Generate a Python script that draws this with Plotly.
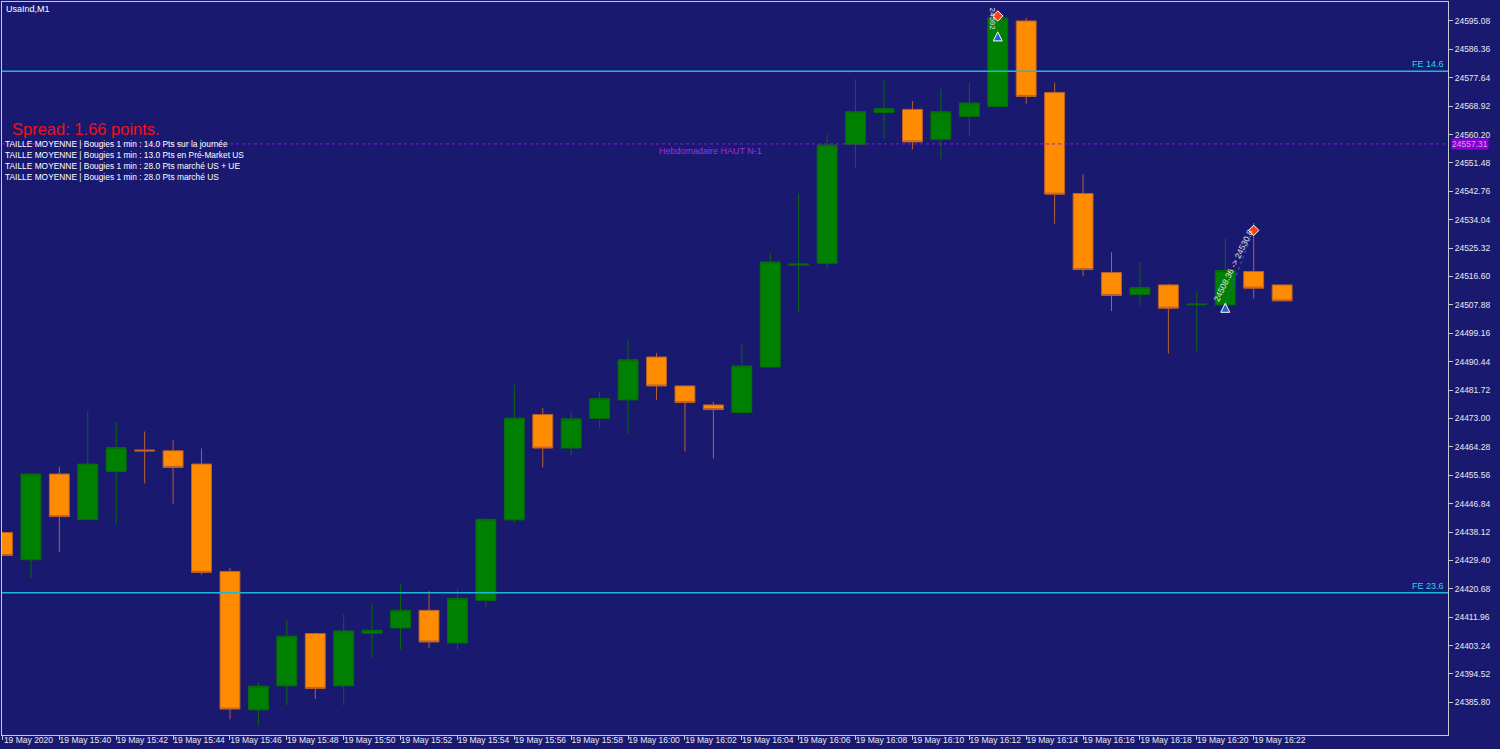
import plotly.graph_objects as go
from datetime import datetime, timedelta

# --- data (UsaInd, M1, 19 May 2020) ---
start = datetime(2020, 5, 19, 15, 38)
times = [start + timedelta(minutes=i) for i in range(46)]

opens = [24437.96, 24429.60, 24455.94, 24441.94, 24456.73, 24463.32, 24463.07, 24459.00,
         24426.01, 24383.53, 24390.88, 24406.93, 24390.88, 24407.02, 24408.65, 24414.07,
         24404.05, 24417.13, 24441.85, 24474.19, 24463.90, 24472.97, 24478.69, 24491.86,
         24482.98, 24477.16, 24474.80, 24488.80, 24520.10, 24520.65, 24557.19, 24566.99,
         24567.91, 24558.72, 24565.77, 24568.83, 24595.08, 24573.12, 24542.09, 24517.81,
         24511.07, 24514.01, 24507.90, 24507.88, 24518.11, 24514.01]
highs = [24437.96, 24456.34, 24458.17, 24475.02, 24471.96, 24468.99, 24466.35, 24463.78,
         24427.15, 24391.93, 24411.01, 24407.24, 24412.84, 24416.12, 24421.94, 24419.98,
         24420.72, 24442.30, 24483.29, 24476.24, 24475.02, 24481.36, 24497.07, 24493.09,
         24483.10, 24478.08, 24496.15, 24523.72, 24542.09, 24560.26, 24577.22, 24577.22,
         24570.49, 24574.16, 24576.09, 24596.61, 24596.00, 24576.09, 24548.00, 24524.02,
         24521.05, 24514.32, 24512.08, 24528.22, 24533.00, 24514.01]
lows = [24430.91, 24423.96, 24431.93, 24441.94, 24440.81, 24453.06, 24446.75, 24425.00,
        24380.59, 24378.63, 24384.97, 24386.81, 24384.97, 24399.58, 24402.12, 24402.52,
        24401.82, 24414.90, 24440.81, 24457.96, 24461.76, 24469.90, 24468.07, 24478.60,
        24462.86, 24460.72, 24474.60, 24488.60, 24505.74, 24518.72, 24549.84, 24558.85,
        24555.66, 24552.72, 24559.77, 24568.60, 24569.66, 24532.81, 24516.67, 24505.95,
        24507.79, 24492.87, 24493.70, 24505.74, 24509.84, 24509.11]
closes = [24430.91, 24455.94, 24442.86, 24459.00, 24464.08, 24463.02, 24457.96, 24425.71,
          24383.75, 24390.79, 24406.11, 24390.09, 24407.73, 24407.94, 24414.07, 24404.36,
          24417.74, 24442.03, 24473.09, 24463.90, 24472.87, 24479.09, 24491.04, 24482.98,
          24477.87, 24475.72, 24489.11, 24521.05, 24520.40, 24557.01, 24567.21, 24568.13,
          24557.93, 24567.21, 24569.87, 24596.00, 24571.89, 24541.88, 24518.72, 24510.76,
          24513.21, 24506.87, 24508.10, 24518.42, 24513.00, 24509.11]

y_tick_vals = [24385.80, 24394.52, 24403.24, 24411.96, 24420.68, 24429.40, 24438.12,
               24446.84, 24455.56, 24464.28, 24473.00, 24481.72, 24490.44, 24499.16,
               24507.88, 24516.60, 24525.32, 24534.04, 24542.76, 24551.48, 24560.20,
               24568.92, 24577.64, 24586.36, 24595.08]

fe_levels = [24579.61, 24419.43]
fe_labels = ["FE 14.6", "FE 23.6"]
weekly_high = 24557.31

trade_open_times = [datetime(2020, 5, 19, 16, 13), datetime(2020, 5, 19, 16, 21)]
trade_open_prices = [24591.71, 24508.36]
trade_close_times = [datetime(2020, 5, 19, 16, 13), datetime(2020, 5, 19, 16, 22)]
trade_close_prices = [24596.61, 24530.76]
trade_texts = ["24592", "24508.36 -> 24530.8"]

info_lines = [
    "TAILLE MOYENNE | Bougies 1 min : 14.0 Pts sur la journée",
    "TAILLE MOYENNE | Bougies 1 min : 13.0 Pts en Pré-Market US",
    "TAILLE MOYENNE | Bougies 1 min : 28.0 Pts marché US + UE",
    "TAILLE MOYENNE | Bougies 1 min : 28.0 Pts marché US",
]

BG = "#191970"
AXIS = "#c8c8d0"
FONT = "Liberation Sans"

# plot area in pixels: x 2..1448, y 2..735
def px(x):
    return (x - 2) / 1446


def py(y):
    return (735 - y) / 733


fig = go.Figure()

fig.add_trace(go.Candlestick(
    x=times, open=opens, high=highs, low=lows, close=closes,
    increasing=dict(fillcolor="#008000", line=dict(color="#0a6a0a", width=1)),
    decreasing=dict(fillcolor="#ff8c00", line=dict(color="#b8602c", width=1)),
    whiskerwidth=0,
    showlegend=False,
    hoverinfo="skip"
))

# trade lines + markers
for i in range(len(trade_open_times)):
    fig.add_trace(go.Scatter(
        x=[trade_open_times[i], trade_close_times[i]],
        y=[trade_open_prices[i], trade_close_prices[i]],
        mode="lines",
        line=dict(color="#1e64d0", width=1, dash="dot"),
        showlegend=False, hoverinfo="skip"
    ))
fig.add_trace(go.Scatter(
    x=trade_open_times, y=trade_open_prices, mode="markers",
    marker=dict(symbol="arrow-up", size=9, color="#1e64d0", line=dict(color="white", width=1)),
    showlegend=False, hoverinfo="skip"
))
fig.add_trace(go.Scatter(
    x=trade_close_times, y=trade_close_prices, mode="markers",
    marker=dict(symbol="diamond", size=8, color="#ff3c14", line=dict(color="white", width=1)),
    showlegend=False, hoverinfo="skip"
))

shapes = []
annotations = []

for level, label in zip(fe_levels, fe_labels):
    shapes.append(dict(type="line", xref="paper", x0=0, x1=1, yref="y", y0=level, y1=level,
                       line=dict(color="#1fb8d8", width=1.5)))
    annotations.append(dict(xref="paper", x=1, xanchor="right", xshift=-2, yref="y", y=level,
                            yanchor="bottom", text=label, showarrow=False,
                            font=dict(family=FONT, size=9, color="#22d8f0")))

shapes.append(dict(type="line", xref="paper", x0=0, x1=1, yref="y", y0=weekly_high, y1=weekly_high,
                   line=dict(color="#7a22d0", width=1, dash="dot")))
annotations.append(dict(xref="paper", x=px(710), yref="y", y=weekly_high, yanchor="top",
                        text="Hebdomadaire HAUT N-1", showarrow=False,
                        font=dict(family=FONT, size=9, color="#9a30e8")))
annotations.append(dict(xref="paper", x=1, xanchor="left", xshift=3, yref="y", y=weekly_high,
                        text=f"{weekly_high:.2f}", showarrow=False, bgcolor="#8a00d0",
                        borderpad=0, font=dict(family=FONT, size=8.5, color="#c8a8e8")))

# trade texts
annotations.append(dict(x=trade_open_times[0], y=24595.6, xshift=-5, text=trade_texts[0],
                        textangle=90, showarrow=False,
                        font=dict(family=FONT, size=8, color="#e8e8f0")))
annotations.append(dict(x=trade_open_times[1] + timedelta(seconds=20), y=24520.0, xshift=-1,
                        text=trade_texts[1], textangle=-64, showarrow=False,
                        font=dict(family=FONT, size=8.5, color="#e8e8f0")))

# labels on the chart
annotations.append(dict(xref="paper", yref="paper", x=px(4), y=py(2), xanchor="left", yanchor="top",
                        text="UsaInd,M1", showarrow=False,
                        font=dict(family=FONT, size=9, color="white")))
annotations.append(dict(xref="paper", yref="paper", x=px(10), y=py(118), xanchor="left", yanchor="top",
                        text="Spread: 1.66 points.", showarrow=False,
                        font=dict(family=FONT, size=16.5, color="#ee1414")))
for k, line in enumerate(info_lines):
    annotations.append(dict(xref="paper", yref="paper", x=px(3), y=py(137 + 11 * k),
                            xanchor="left", yanchor="top", text=line, showarrow=False,
                            font=dict(family=FONT, size=8.4, color="white")))

x_tick_vals = times[::2]
x_tick_text = ["19 May 2020"] + [t.strftime("19 May %H:%M") for t in x_tick_vals[1:]]

fig.update_layout(
    width=1500, height=749,
    margin=dict(l=2, r=52, t=2, b=14),
    paper_bgcolor=BG, plot_bgcolor=BG,
    boxgap=0.3, boxgroupgap=0,
    showlegend=False,
    font=dict(family=FONT, color="#e8e8f0"),
    xaxis=dict(
        type="date",
        range=[start - timedelta(seconds=1), start + timedelta(minutes=50, seconds=50)],
        rangeslider=dict(visible=False),
        tickvals=x_tick_vals, ticktext=x_tick_text,
        ticks="outside", ticklen=4, tickcolor=AXIS, tickwidth=1,
        ticklabelshift=26, ticklabelstandoff=-7,
        tickfont=dict(family=FONT, size=8.5, color="#e8e8f0"),
        showgrid=False, zeroline=False, automargin=False,
        showline=True, linecolor=AXIS, linewidth=1, mirror=True
    ),
    yaxis=dict(
        side="right",
        range=[24375.78, 24600.90],
        tickvals=y_tick_vals, ticktext=[f"{v:.2f}" for v in y_tick_vals],
        ticks="outside", ticklen=4, tickcolor=AXIS, tickwidth=1,
        ticklabelstandoff=0,
        tickfont=dict(family=FONT, size=8.5, color="#e8e8f0"),
        showgrid=False, zeroline=False, automargin=False,
        showline=True, linecolor=AXIS, linewidth=1, mirror=True
    ),
    shapes=shapes,
    annotations=annotations,
)

fig.write_html("out.html", config={"displayModeBar": False},
               post_script="document.body.style.margin='0';")
